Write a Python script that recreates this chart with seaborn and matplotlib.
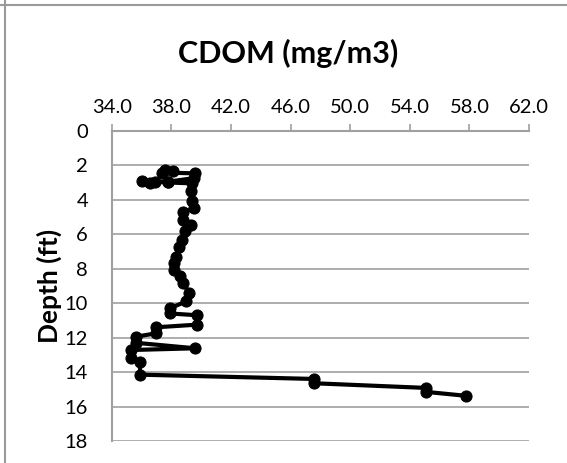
import numpy as np
import pandas as pd
import seaborn as sns
from matplotlib import pyplot as plt
from matplotlib.lines import Line2D

# CDOM profile (mg/m3 vs depth in ft), in cast order
cdom = [38.1, 37.6, 37.4, 39.6, 39.5, 37.8, 36.9, 36.6, 36.0, 37.8,
        39.4, 39.3, 39.4, 39.5, 38.8, 38.8, 39.3, 38.9, 38.7, 38.5,
        38.3, 38.2, 38.2, 38.6, 38.8, 39.2, 39.0, 37.9, 37.9, 39.7,
        39.7, 37.0, 37.0, 35.6, 35.6, 39.6, 35.3, 35.3, 35.9, 35.9,
        47.6, 47.6, 55.1, 55.1, 57.8]
depth = [2.35, 2.28, 2.42, 2.47, 2.75, 2.95, 2.96, 3.05, 2.92, 3.00,
         3.05, 3.50, 4.10, 4.50, 4.70, 5.15, 5.45, 5.80, 6.35, 6.75,
         7.30, 7.70, 8.10, 8.40, 8.85, 9.40, 9.90, 10.30, 10.60, 10.70,
         11.25, 11.40, 11.75, 11.95, 12.30, 12.62, 12.72, 13.20, 13.40, 14.15,
         14.40, 14.65, 14.92, 15.15, 15.38]

x_ticks = [34, 38, 42, 46, 50, 54, 58, 62]
y_ticks = [0, 2, 4, 6, 8, 10, 12, 14, 16, 18]

df = pd.DataFrame({"CDOM": cdom, "Depth": depth})

sns.set_theme(style="white")
plt.rcParams['font.family'] = ['Lato', 'DejaVu Sans']

fig = plt.figure(figsize=(5.67, 4.63), dpi=100)
ax = fig.add_axes([0.197, 0.0475, 0.736, 0.670])

grey = "#a0a0a0"
sns.lineplot(data=df, x="CDOM", y="Depth", sort=False, estimator=None,
             color="black", linewidth=3, marker="o", markersize=8,
             markeredgecolor="black", ax=ax)

ax.set_xlim(34, 62)
ax.set_ylim(18, 0)
ax.set_xticks(x_ticks)
ax.set_xticklabels(["{:.1f}".format(v) for v in x_ticks])
ax.set_yticks(y_ticks)
ax.xaxis.tick_top()
ax.xaxis.set_label_position("top")
ax.tick_params(axis="x", direction="out", length=5, width=1.2, color=grey,
               labelsize=14.5, labelcolor="black", pad=6)
ax.tick_params(axis="y", direction="out", length=5, width=1.2, color=grey,
               labelsize=14.5, labelcolor="black", pad=12)
ax.yaxis.grid(True, color=grey, linewidth=1.2)
ax.xaxis.grid(False)
for side in ["right", "bottom"]:
    ax.spines[side].set_visible(False)
for side in ["left", "top"]:
    ax.spines[side].set_color(grey)
    ax.spines[side].set_linewidth(1.5)

ax.set_xlabel("")
ax.set_ylabel("Depth (ft)", fontsize=19, fontweight="bold", labelpad=2,
              color="black")
fig.text(0.508, 0.865, "CDOM (mg/m3)", fontsize=22, fontweight="bold",
         ha="center", va="baseline", color="black")

# spreadsheet cell borders around the chart
fig.add_artist(Line2D([0, 1], [0.989, 0.989], color="#9a9a9a", linewidth=1.5))
fig.add_artist(Line2D([0.009, 0.009], [0, 1], color="#9a9a9a", linewidth=1.5))

plt.savefig("out.png", dpi=100)
plt.close('all')
